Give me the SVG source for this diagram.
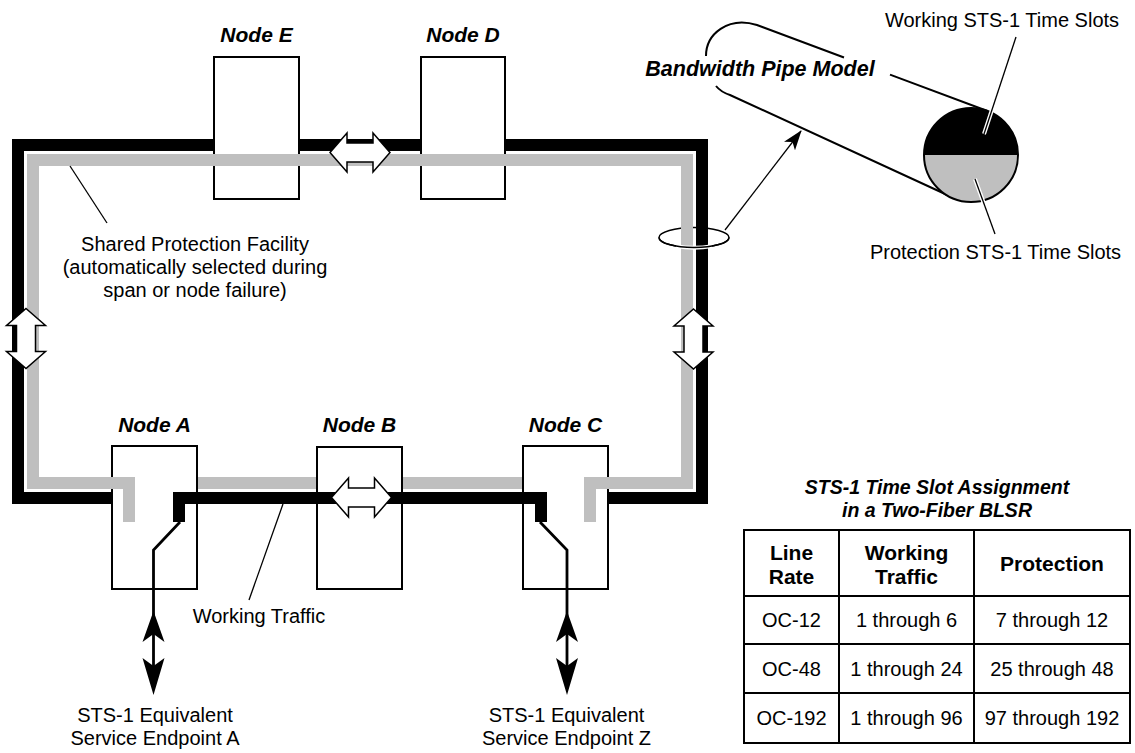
<svg xmlns="http://www.w3.org/2000/svg" width="1135" height="753" viewBox="0 0 1135 753">
<style>
text{font-family:"Liberation Sans",Arial,sans-serif;fill:#000}
.lbl{font-size:21px;font-weight:bold;font-style:italic;text-anchor:middle}
.t{font-size:20px;text-anchor:middle}
.th{font-size:21px;font-weight:bold;text-anchor:middle}
.tt{font-size:19.5px;font-weight:bold;font-style:italic;text-anchor:middle}
.box{fill:#fff;stroke:#000;stroke-width:2}
.blk{fill:none;stroke:#000;stroke-width:12;stroke-linejoin:miter}
.gry{fill:none;stroke:#bfbfbf;stroke-width:12;stroke-linejoin:miter}
.thin{fill:none;stroke:#000;stroke-width:1.3}
.halo{fill:none;stroke:#fff;stroke-width:4}
.dbl{fill:#fff;stroke:#000;stroke-width:1.5;stroke-linejoin:miter}
.ep{fill:none;stroke:#000;stroke-width:2.8;stroke-linejoin:miter}
.tab{fill:none;stroke:#000;stroke-width:2}
</style>
<defs>
<path id="dblarrow" d="M -30,0 L -13,-19.5 L -13,-9.5 L 13,-9.5 L 13,-19.5 L 30,0 L 13,19.5 L 13,9.5 L -13,9.5 L -13,19.5 Z"/>
<marker id="ah" viewBox="0 0 20 14" refX="19" refY="7" markerWidth="20" markerHeight="14" markerUnits="userSpaceOnUse" orient="auto">
<path d="M0,0 L20,7 L0,14 L5,7 Z" fill="#000"/>
</marker>
</defs>

<!-- ellipse (back part hidden by ring bands) -->
<g id="ring-marker">
<ellipse cx="694" cy="237.5" rx="35" ry="10" fill="none" stroke="#000" stroke-width="1.5"/>
</g>

<g id="ring-under">
<path class="blk" d="M 150,498 L 18,498 L 18,145 L 702,145 L 702,498 L 580,498"/>
<path class="gry" d="M 160,483 L 560,483"/>
</g>

<g id="nodeE"><rect class="box" x="214" y="57" width="85" height="142"/><text class="lbl" x="256.5" y="42">Node E</text></g>
<g id="nodeD"><rect class="box" x="421" y="57" width="84" height="142"/><text class="lbl" x="463" y="42">Node D</text></g>
<g id="nodeA"><rect class="box" x="112" y="446" width="85" height="143"/><text class="lbl" x="154.5" y="432">Node A</text></g>
<g id="nodeB"><rect class="box" x="317" y="447" width="85" height="142"/><text class="lbl" x="359.5" y="432">Node B</text></g>
<g id="nodeC"><rect class="box" x="523" y="446" width="85" height="143"/><text class="lbl" x="565.5" y="432">Node C</text></g>

<g id="connectors">
<path class="gry" d="M 129,522 L 129,483 L 33,483 L 33,160 L 687,160 L 687,483 L 590,483 L 590,522"/>
<path class="blk" d="M 179,522 L 179,498 L 541,498 L 541,522"/>
<!-- ellipse front arc -->
<path class="halo" d="M 676,246.1 A 35,10 0 0 0 712,246.1"/>
<path d="M 659,237.5 A 35,10 0 0 0 729,237.5" fill="none" stroke="#000" stroke-width="1.5"/>
<!-- double arrows -->
<use href="#dblarrow" class="dbl" transform="translate(360,152.5)"/>
<use href="#dblarrow" class="dbl" transform="translate(361.5,497.5)"/>
<use href="#dblarrow" class="dbl" transform="translate(26,338.5) rotate(90)"/>
<use href="#dblarrow" class="dbl" transform="translate(693.5,339) rotate(90)"/>
<!-- endpoint A -->
<path class="ep" d="M 180,522 L 153.5,550 L 153.5,688"/>
<polygon points="153.5,611 142.5,642 153.5,634 164.5,642"/>
<polygon points="153.5,695 142.5,658 153.5,666 164.5,658"/>
<!-- endpoint Z -->
<path class="ep" d="M 540,522 L 567,550 L 567,688"/>
<polygon points="567,611 556,642 567,634 578,642"/>
<polygon points="567,695 556,658 567,666 578,658"/>
<!-- leaders -->
<line class="thin" x1="70" y1="166" x2="107" y2="223"/>
<line class="thin" x1="283" y1="504" x2="249" y2="600"/>
<line class="thin" x1="725" y1="230" x2="801" y2="131" marker-end="url(#ah)"/>
</g>

<g id="pipe">
<path d="M 706,56 C 706,34 728,16 757,25 L 844,57.5" fill="none" stroke="#000" stroke-width="2"/>
<line x1="890" y1="74.6" x2="987.4" y2="111" stroke="#000" stroke-width="2"/>
<path d="M 716,86 C 720,91 724,93 730,95 L 956,199" fill="none" stroke="#000" stroke-width="2"/>
<path d="M 924,155 A 47,47 0 0 1 1018,155 Z" fill="#000"/>
<path d="M 924,155 A 47,47 0 0 0 1018,155 Z" fill="#bfbfbf"/>
<circle cx="971" cy="155" r="47" fill="none" stroke="#000" stroke-width="2"/>
<line class="halo" x1="1016" y1="37" x2="984" y2="134" stroke-width="3.5"/>
<line class="thin" x1="1016" y1="37" x2="984" y2="134"/>
<line class="halo" x1="975" y1="179" x2="995" y2="234" stroke-width="3.5"/>
<line class="thin" x1="975" y1="179" x2="995" y2="234"/>
<text class="lbl" x="760" y="76" style="font-size:21.5px">Bandwidth Pipe Model</text>
<text class="t" x="1002" y="27">Working STS-1 Time Slots</text>
<text class="t" x="995.5" y="259">Protection STS-1 Time Slots</text>
</g>

<g id="labels">
<text class="t" x="195" y="251">Shared Protection Facility</text>
<text class="t" x="195" y="274">(automatically selected during</text>
<text class="t" x="195" y="297">span or node failure)</text>
<text class="t" x="259" y="623">Working Traffic</text>
<text class="t" x="155" y="722">STS-1 Equivalent</text>
<text class="t" x="155" y="745">Service Endpoint A</text>
<text class="t" x="566.5" y="722">STS-1 Equivalent</text>
<text class="t" x="566.5" y="745">Service Endpoint Z</text>
</g>

<g id="table">
<text class="tt" x="937" y="494">STS-1 Time Slot Assignment</text>
<text class="tt" x="937" y="517">in a Two-Fiber BLSR</text>
<rect class="tab" x="744" y="530" width="386" height="213"/>
<line class="tab" x1="744" y1="596" x2="1130" y2="596"/>
<line class="tab" x1="744" y1="644" x2="1130" y2="644"/>
<line class="tab" x1="744" y1="693" x2="1130" y2="693"/>
<line class="tab" x1="839" y1="530" x2="839" y2="743"/>
<line class="tab" x1="974" y1="530" x2="974" y2="743"/>
<text class="th" x="791.5" y="560">Line</text>
<text class="th" x="791.5" y="584">Rate</text>
<text class="th" x="906.5" y="560">Working</text>
<text class="th" x="906.5" y="584">Traffic</text>
<text class="th" x="1052" y="571">Protection</text>
<text class="t" x="791.5" y="627">OC-12</text>
<text class="t" x="906.5" y="627">1 through 6</text>
<text class="t" x="1052" y="627">7 through 12</text>
<text class="t" x="791.5" y="676">OC-48</text>
<text class="t" x="906.5" y="676">1 through 24</text>
<text class="t" x="1052" y="676">25 through 48</text>
<text class="t" x="791.5" y="725">OC-192</text>
<text class="t" x="906.5" y="725">1 through 96</text>
<text class="t" x="1052" y="725">97 through 192</text>
</g>
</svg>
